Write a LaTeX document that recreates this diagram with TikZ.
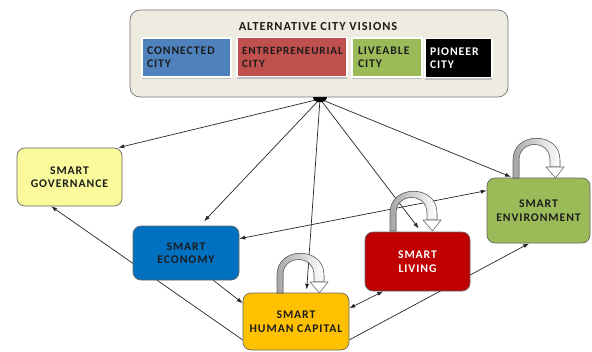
\documentclass[tikz,border=0pt]{standalone}
\usepackage{fontspec}
\setmainfont{Carlito}
\newfontfamily\spacedfont{Carlito}[LetterSpace=8]
\usetikzlibrary{arrows.meta,shadows}

\definecolor{visbeige}{HTML}{EEECE1}
\definecolor{conblue}{HTML}{4F81BD}
\definecolor{entred}{HTML}{C0504D}
\definecolor{livgreen}{HTML}{9BBB59}
\definecolor{govyellow}{HTML}{FAFA9C}
\definecolor{ecoblue}{HTML}{0070C0}
\definecolor{hcgold}{HTML}{FFC000}
\definecolor{livred}{HTML}{C00000}
\definecolor{envgreen}{HTML}{9BBB59}
\definecolor{txtdark}{HTML}{1C1C1C}

\pgfdeclarelayer{background}
\pgfsetlayers{background,main}

% one picture unit is one pixel of the 592x351 canvas
\newcommand{\px}{0.3mm}

% bent self-loop arrow, placed by its left foot
\newcommand{\selfloop}[1]{%
  \begin{scope}[shift={#1}]
    \filldraw[draw=black!60,line width=0.5pt,left color=black!35,right color=white]
      (0,0) -- (0,-18) .. controls (0,-47) and (47,-47) .. (47,-18)
      -- (47,-11) -- (37,-11) -- (37,-18)
      .. controls (37,-38.7) and (6,-38.7) .. (6,-18) -- (6,0) -- cycle;
    \filldraw[draw=black!60,fill=white,line width=0.5pt]
      (33,-11) -- (51,-11) -- (42.5,0) -- cycle;
  \end{scope}}

\tikzset{
  pillar/.style={draw=black!60,line width=0.6pt,rounded corners=2.4mm,
    align=center,text=txtdark,inner sep=2pt,
    font=\spacedfont\bfseries\fontsize{10}{11.5}\selectfont},
  citybox/.style={draw=white,line width=1.5pt,align=left,inner sep=0pt,
    minimum height=39*\px,text=txtdark,
    font=\spacedfont\bfseries\fontsize{10}{11}\selectfont,
    drop shadow={shadow xshift=0pt,shadow yshift=-2pt,fill=black!25,opacity=1}},
  link/.style={-{Latex[length=5pt,width=3.5pt]},draw=black!85,line width=0.6pt},
  twoway/.style={{Latex[length=5pt,width=3.5pt]}-{Latex[length=5pt,width=3.5pt]},
    draw=black!85,line width=0.6pt},
}

\begin{document}
\begin{tikzpicture}[x=\px,y=-\px]
  \useasboundingbox (0,0) rectangle (592,351);

  % --- the four visions ---
  \node[draw=black!55,line width=0.6pt,fill=visbeige,rounded corners=3mm,
        minimum width=378*\px,minimum height=87*\px] (visions) at (319,53.5) {};
  \node[font=\spacedfont\bfseries\fontsize{10.5}{11}\selectfont,text=txtdark]
        (vtitle) at (318,26.5) {ALTERNATIVE CITY VISIONS};
  \node[citybox,fill=conblue,minimum width=89*\px,text width=79*\px] (conn)
        at (186.5,57.5) {CONNECTED\\CITY};
  \node[citybox,fill=entred,minimum width=110*\px,text width=100*\px,
        font=\spacedfont\bfseries\fontsize{9.5}{11}\selectfont] (entr)
        at (292,57) {ENTREPRENEURIAL\\CITY};
  \node[citybox,fill=livgreen,minimum width=70*\px,text width=58*\px] (live)
        at (387,57.5) {LIVEABLE\\CITY};
  \node[citybox,fill=black,text=white,minimum width=67*\px,text width=57*\px] (pion)
        at (458.5,58) {PIONEER\\CITY};
  \coordinate (hub) at (320,99);

  % --- smart dimensions ---
  \node[pillar,fill=govyellow,minimum width=105*\px,minimum height=58*\px] (gov)
        at (69.5,177) {SMART\\GOVERNANCE};
  \node[pillar,fill=ecoblue,minimum width=106*\px,minimum height=54*\px] (eco)
        at (186,253) {SMART\\ECONOMY};
  \node[pillar,fill=hcgold,minimum width=106*\px,minimum height=57*\px] (hcap)
        at (296,321.5) {SMART\\HUMAN CAPITAL};
  \node[pillar,fill=livred,text=white,minimum width=105*\px,minimum height=59*\px] (liv)
        at (417.5,261.5) {SMART\\LIVING};
  \node[pillar,fill=envgreen,minimum width=103*\px,minimum height=65*\px] (env)
        at (538.5,210.5) {SMART\\ENVIRONMENT};

  % --- links, kept behind the boxes ---
  \begin{pgfonlayer}{background}
    \draw[link] (hub) -- (gov.31);
    \draw[link,shorten >=6*\px] (hub) -- (eco.63);
    \draw[link,shorten >=3*\px] (hub) -- (hcap.70);
    \draw[link,shorten >=4*\px] (hub) -- (liv.83);
    \draw[link,shorten >=2*\px] (hub) -- (env.128);
    \draw[link] (hcap.199) -- (gov.238);
    \draw[link] (eco.-45) -- (hcap.161);
    \draw[twoway] (eco.15) -- (env.159);
    \draw[twoway] (hcap.14) -- (liv.221);
    \draw[link] (hcap.-19) -- (env.254);
  \end{pgfonlayer}

  % hub where the links leave the visions box
  \fill[black] (313,97) .. controls (313,104) and (327,104) .. (327,97) -- cycle;

  % self-reinforcing loops
  \selfloop{(277,293)}
  \selfloop{(390,231)}
  \selfloop{(513,178)}

\end{tikzpicture}
\end{document}
